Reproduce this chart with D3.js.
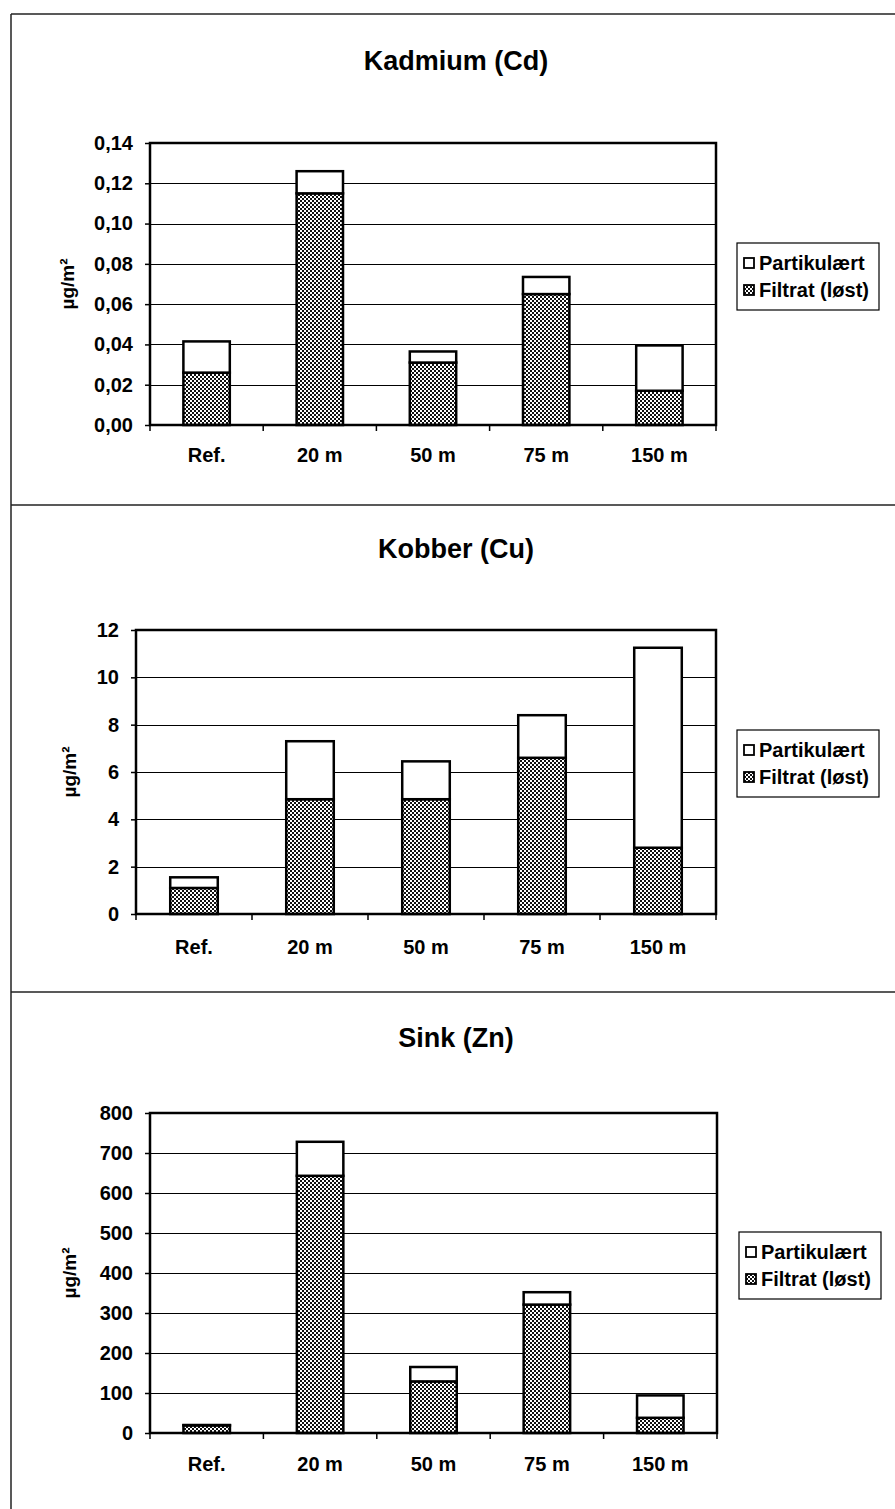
<!DOCTYPE html>
<html><head><meta charset="utf-8">
<script src="https://cdn.jsdelivr.net/npm/d3@7"></script>
<style>
body{margin:0;background:#fff}
text{font-family:"Liberation Sans",Arial,sans-serif;font-weight:bold;fill:#000}
</style>
</head><body>
<svg id="c" width="895" height="1509"></svg>
<script>
// ---- data ----
const categories = ["Ref.", "20 m", "50 m", "75 m", "150 m"];
const seriesNames = ["Partikulært", "Filtrat (løst)"];
const yLabel = "µg/m²";

const cdTitle = "Kadmium (Cd)";
const cdFiltrat = [0.026, 0.115, 0.031, 0.065, 0.017];
const cdPartikulaert = [0.0155, 0.011, 0.0055, 0.0085, 0.0225];
const cdTicks = [0, 0.02, 0.04, 0.06, 0.08, 0.10, 0.12, 0.14];

const cuTitle = "Kobber (Cu)";
const cuFiltrat = [1.1, 4.85, 4.85, 6.6, 2.8];
const cuPartikulaert = [0.45, 2.45, 1.6, 1.8, 8.45];
const cuTicks = [0, 2, 4, 6, 8, 10, 12];

const znTitle = "Sink (Zn)";
const znFiltrat = [19, 643, 129, 321, 38];
const znPartikulaert = [1, 85, 36, 31, 56];
const znTicks = [0, 100, 200, 300, 400, 500, 600, 700, 800];

// ---- layout ----
const panels = [
  {title: cdTitle, filtrat: cdFiltrat, part: cdPartikulaert, ticks: cdTicks,
   fmt: v => d3.format(".2f")(v).replace(".", ","),
   titleY: 70, x0: 150, x1: 716, y0: 143, y1: 425, catY: 462, ylabX: 74,
   leg: {x: 737, y: 243, w: 142, h: 67}},
  {title: cuTitle, filtrat: cuFiltrat, part: cuPartikulaert, ticks: cuTicks,
   fmt: d3.format("d"),
   titleY: 558, x0: 136, x1: 716, y0: 630, y1: 914, catY: 954, ylabX: 76,
   leg: {x: 737, y: 730, w: 142, h: 67}},
  {title: znTitle, filtrat: znFiltrat, part: znPartikulaert, ticks: znTicks,
   fmt: d3.format("d"),
   titleY: 1047, x0: 150, x1: 717, y0: 1113, y1: 1433, catY: 1471, ylabX: 76,
   leg: {x: 739, y: 1232, w: 142, h: 67}}
];

const svg = d3.select("#c");
const defs = svg.append("defs");
const pat = defs.append("pattern").attr("id", "hatch")
  .attr("patternUnits", "userSpaceOnUse").attr("width", 4).attr("height", 4);
pat.append("rect").attr("width", 4).attr("height", 4).attr("fill", "#fff");
pat.append("rect").attr("x", 0).attr("y", 0).attr("width", 2).attr("height", 2).attr("fill", "#111");
pat.append("rect").attr("x", 2).attr("y", 2).attr("width", 2).attr("height", 2).attr("fill", "#111");

// page frame
const frame = svg.append("g").attr("stroke", "#222").attr("stroke-width", 1.5).attr("fill", "none");
frame.append("line").attr("x1", 11).attr("x2", 895).attr("y1", 14).attr("y2", 14);
frame.append("line").attr("x1", 11).attr("x2", 11).attr("y1", 14).attr("y2", 1509);
frame.append("line").attr("x1", 11).attr("x2", 895).attr("y1", 505).attr("y2", 505);
frame.append("line").attr("x1", 11).attr("x2", 895).attr("y1", 992).attr("y2", 992);

panels.forEach(p => {
  const g = svg.append("g");
  const slot = d3.scaleBand().domain(categories).range([p.x0, p.x1]).padding(0);
  const x = d3.scaleBand().domain(categories).range([p.x0, p.x1])
    .paddingInner(0.59).paddingOuter(0.295);
  const y = d3.scaleLinear().domain([0, d3.max(p.ticks)]).range([p.y1, p.y0]);

  // title
  g.append("text").attr("x", 456).attr("y", p.titleY).attr("text-anchor", "middle")
    .style("font-size", "27px").text(p.title);

  // gridlines
  g.append("g").selectAll("line").data(p.ticks.slice(1, -1)).join("line")
    .attr("x1", p.x0).attr("x2", p.x1)
    .attr("y1", d => Math.round(y(d)) + 0.5).attr("y2", d => Math.round(y(d)) + 0.5)
    .attr("stroke", "#000").attr("stroke-width", 1.2);

  // bars (stacked)
  const rows = categories.map((c, i) => ({c, f: p.filtrat[i], t: p.filtrat[i] + p.part[i]}));
  g.append("g").selectAll("rect.f").data(rows).join("rect")
    .attr("x", d => x(d.c)).attr("width", x.bandwidth())
    .attr("y", d => y(d.f)).attr("height", d => y(0) - y(d.f))
    .attr("fill", "url(#hatch)").attr("stroke", "#000").attr("stroke-width", 2.5);
  g.append("g").selectAll("rect.p").data(rows).join("rect")
    .attr("x", d => x(d.c)).attr("width", x.bandwidth())
    .attr("y", d => y(d.t)).attr("height", d => y(d.f) - y(d.t))
    .attr("fill", "#fff").attr("stroke", "#000").attr("stroke-width", 2.5);

  // plot border
  g.append("rect").attr("x", p.x0).attr("y", p.y0).attr("width", p.x1 - p.x0).attr("height", p.y1 - p.y0)
    .attr("fill", "none").attr("stroke", "#000").attr("stroke-width", 2.5);

  // y axis
  const ya = g.append("g").attr("transform", `translate(${p.x0},0)`)
    .call(d3.axisLeft(y).tickValues(p.ticks).tickFormat(p.fmt).tickSize(5).tickPadding(12));
  ya.select(".domain").remove();
  ya.selectAll("line").attr("stroke", "#000").attr("stroke-width", 1.5);
  ya.selectAll("text").style("font-size", "20px").attr("font-family", null).attr("fill", "#000");

  // x axis ticks at slot boundaries
  const bounds = categories.map(c => slot(c)).concat([p.x1]);
  g.append("g").selectAll("line").data(bounds).join("line")
    .attr("x1", d => d).attr("x2", d => d).attr("y1", p.y1).attr("y2", p.y1 + 6)
    .attr("stroke", "#000").attr("stroke-width", 1.5);
  g.append("g").selectAll("text").data(categories).join("text")
    .attr("x", d => slot(d) + slot.bandwidth() / 2).attr("y", p.catY)
    .attr("text-anchor", "middle").style("font-size", "20px").text(d => d);

  // y label
  g.append("text").attr("transform", `translate(${p.ylabX},${(p.y0 + p.y1) / 2}) rotate(-90)`)
    .attr("text-anchor", "middle").style("font-size", "19px").text(yLabel);

  // legend
  const L = p.leg;
  const lg = g.append("g");
  lg.append("rect").attr("x", L.x).attr("y", L.y).attr("width", L.w).attr("height", L.h)
    .attr("fill", "#fff").attr("stroke", "#000").attr("stroke-width", 1.2);
  const fills = ["#fff", "url(#hatch)"];
  lg.selectAll("g.item").data(seriesNames).join("g").each(function(name, i) {
    const cy = L.y + 20 + i * 27;
    const it = d3.select(this);
    it.append("rect").attr("x", L.x + 7).attr("y", cy - 5).attr("width", 10).attr("height", 10)
      .attr("fill", fills[i]).attr("stroke", "#000").attr("stroke-width", 1.8);
    it.append("text").attr("x", L.x + 22).attr("y", cy + 7).style("font-size", "20px").text(name);
  });
});
</script>
</body></html>
